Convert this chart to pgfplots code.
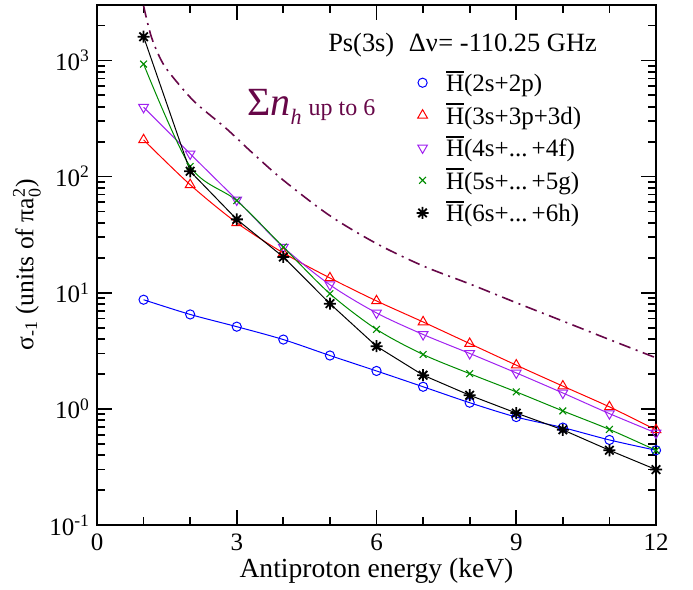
\documentclass[border=0pt]{standalone}
\usepackage{fontspec}
\setmainfont{Liberation Serif}
\usepackage{amsmath}
\usepackage{pgfplots}
\pgfplotsset{compat=1.18}
\definecolor{gblue}{RGB}{0,0,255}
\definecolor{gred}{RGB}{255,0,0}
\definecolor{gviolet}{RGB}{160,32,240}
\definecolor{ggreen}{RGB}{0,140,0}
\definecolor{gmaroon}{RGB}{103,7,72}
\newcommand{\Hb}{\makebox[0pt][l]{\rule[0.76em]{0.72em}{0.07em}}H}
\pgfdeclareplotmark{ast8}{%
  \pgfpathmoveto{\pgfpoint{0pt}{\pgfplotmarksize}}\pgfpathlineto{\pgfpoint{0pt}{-\pgfplotmarksize}}%
  \pgfpathmoveto{\pgfpoint{\pgfplotmarksize}{0pt}}\pgfpathlineto{\pgfpoint{-\pgfplotmarksize}{0pt}}%
  \pgfpathmoveto{\pgfpoint{0.707\pgfplotmarksize}{0.707\pgfplotmarksize}}\pgfpathlineto{\pgfpoint{-0.707\pgfplotmarksize}{-0.707\pgfplotmarksize}}%
  \pgfpathmoveto{\pgfpoint{-0.707\pgfplotmarksize}{0.707\pgfplotmarksize}}\pgfpathlineto{\pgfpoint{0.707\pgfplotmarksize}{-0.707\pgfplotmarksize}}%
  \pgfusepathqstroke}
\begin{document}
\begin{tikzpicture}
\begin{axis}[
  scale only axis, width=279.5pt, height=260pt,
  ymode=log, xmin=0, xmax=12, ymin=0.1, ymax=3000,
  xtick={0,3,6,9,12}, xticklabels={0,3,6,9,12},
  minor xtick={1,2,4,5,7,8,10,11},
  ytick={0.1,1,10,100,1000},
  yticklabels={10\textsuperscript{-1},10\textsuperscript{0},10\textsuperscript{1},10\textsuperscript{2},10\textsuperscript{3}},
  minor ytick={0.2,0.3,0.4,0.5,0.6,0.7,0.8,0.9,2,3,4,5,6,7,8,9,20,30,40,50,60,70,80,90,200,300,400,500,600,700,800,900,2000,3000},
  tick align=inside,
  major tick length=7.5pt, minor tick length=3.8pt,
  every tick/.style={black, line width=0.9pt},
  axis line style={line width=1.1pt},
  tick label style={font=\fontsize{12.5}{14}\selectfont},
  xticklabel style={yshift=-1pt},
  xlabel={Antiproton energy (keV)},
  xlabel style={at={(axis description cs:0.5,0)}, anchor=base, yshift=-26pt, inner sep=0pt, font=\fontsize{13.8}{15}\selectfont},
  ylabel={σ\textsubscript{-1} (units of π$\text{a}_{\text{0}}^{\text{2}}$)},
  ylabel style={at={(axis description cs:-0.1,0.5)}, rotate=0, anchor=south, inner sep=0pt, font=\fontsize{12.8}{14}\selectfont},
  legend style={at={(rel axis cs:0.571,0.878)}, anchor=north west, draw=none, fill=none,
    font=\fontsize{12.5}{14}\selectfont, row sep=2.4pt, inner sep=0pt, column sep=0pt,
    nodes={inner sep=1pt}},
  legend cell align=left,
  legend image code/.code={\path (0pt,0pt) (10.5pt,0pt); \draw[#1,only marks] plot coordinates {(0pt,0pt)};},
]
\addplot[gmaroon, line width=0.8pt, dash pattern=on 6pt off 2.8pt on 1pt off 2.8pt, smooth, forget plot] coordinates {
(1.0,2950)(1.17,1580)(1.42,935)(1.78,607)(2.14,423)(2.78,258)(3.32,162)(4,93)(5,46)(6,26.5)(7,17)(8,11.9)(9,8.2)(10,5.7)(11,3.95)(12,2.75)};
\addplot[gblue, line width=0.5pt, smooth, mark=o, mark size=2.3pt, mark options={line width=0.5pt}] coordinates {
(1,8.7)(2,6.5)(3,5.1)(4,3.95)(5,2.88)(6,2.12)(7,1.55)(8,1.13)(9,0.85)(10,0.69)(11,0.54)(12,0.44)};
\addlegendentry{\Hb(2s+2p)}
\addplot[gred, line width=0.5pt, smooth, mark=triangle, mark size=2.8pt, mark options={line width=0.5pt}] coordinates {
(1,207)(2,85)(3,40)(4,22)(5,13.4)(6,8.5)(7,5.6)(8,3.65)(9,2.38)(10,1.57)(11,1.04)(12,0.66)};
\addlegendentry{\Hb(3s+3p+3d)}
\addplot[gviolet, line width=0.5pt, smooth, mark=triangle, mark size=2.8pt, mark options={line width=0.5pt, rotate=180}] coordinates {
(1,395)(2,157)(3,63)(4,24.7)(5,11.7)(6,6.7)(7,4.37)(8,3.0)(9,2.04)(10,1.37)(11,0.91)(12,0.62)};
\addlegendentry{\Hb(4s+...\,+4f)}
\addplot[ggreen, line width=0.5pt, smooth, mark=x, mark size=2.4pt, mark options={line width=0.55pt}] coordinates {
(1,930)(2,122)(3,62)(4,24.7)(5,9.8)(6,4.84)(7,2.94)(8,2.01)(9,1.40)(10,0.96)(11,0.665)(12,0.44)};
\addlegendentry{\Hb(5s+...\,+5g)}
\addplot[black, line width=0.5pt, mark=ast8, mark size=3pt, mark options={line width=0.9pt}] coordinates {
(1,1600)(2,111)(3,42.8)(4,20.3)(5,8.05)(6,3.46)(7,1.95)(8,1.31)(9,0.92)(10,0.66)(11,0.44)(12,0.30)};
\addlegendentry{\Hb(6s+...\,+6h)}
\node[anchor=base west, inner sep=0pt, font=\fontsize{13.2}{15}\selectfont] at (rel axis cs:0.413,0.9115) {Ps(3s)\hspace{0.55em}Δν\hspace{0.03em}=\hspace{0.25em}-110.25 GHz};
\node[anchor=base west, inner sep=0pt, text=gmaroon, font=\fontsize{12}{14}\selectfont] at (rel axis cs:0.268,0.788) {{\fontsize{20}{22}\selectfont Σ\textit{n}}\raisebox{-0.38em}{\fontsize{11}{12}\selectfont\textit{h}}\hspace{0.3em}up to 6};
\end{axis}
\pgfresetboundingbox
\path (current axis.south west) +(-48.5pt,-32pt) (current axis.north east) +(18.5pt,2.5pt);
\end{tikzpicture}
\end{document}
